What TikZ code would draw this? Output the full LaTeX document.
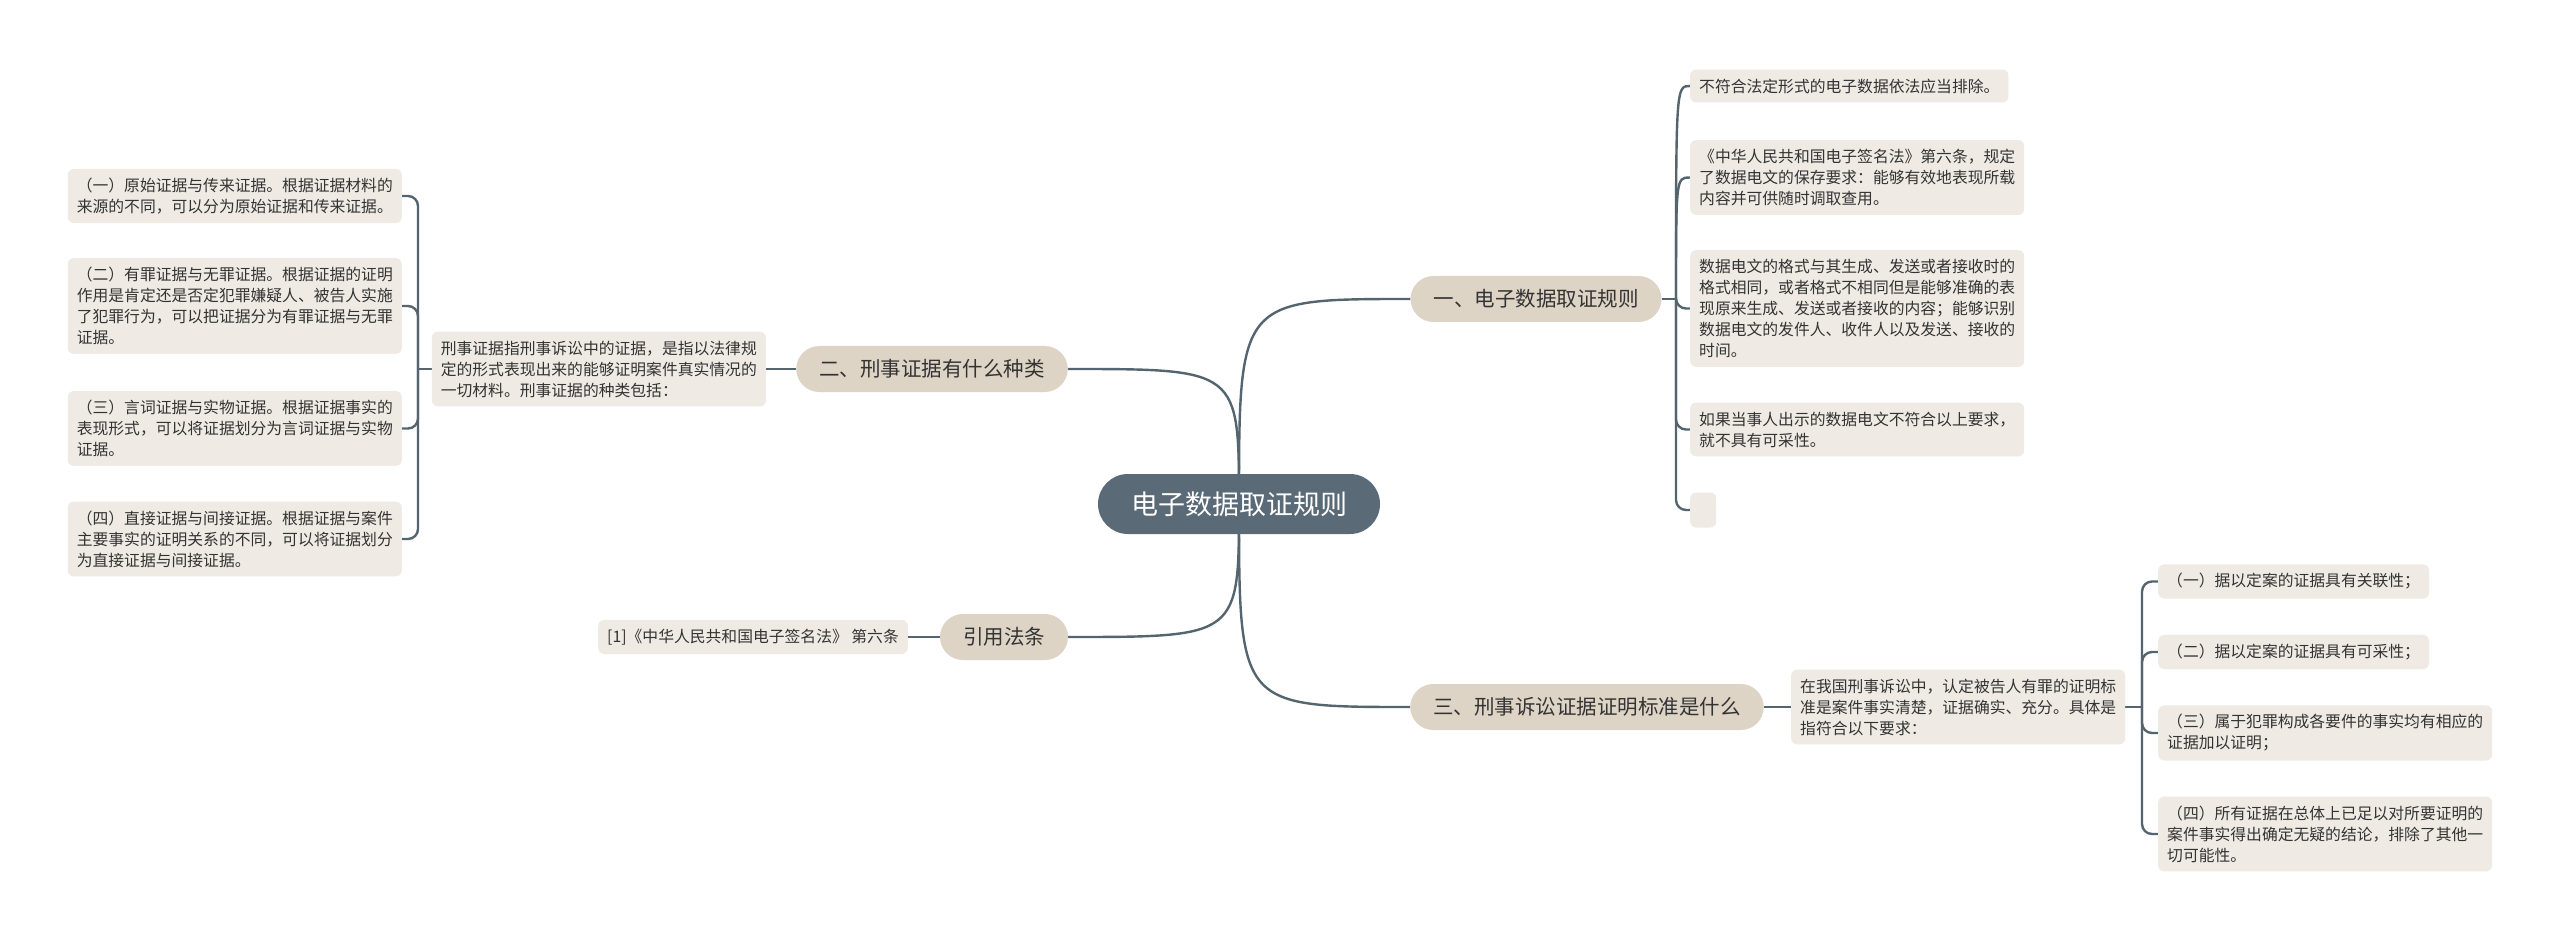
\documentclass[tikz,border=0pt]{standalone}
\usepackage{fontspec}
\setmainfont{Noto Sans CJK SC}
\usetikzlibrary{backgrounds}
\definecolor{linecol}{HTML}{55656F}
\definecolor{maincol}{HTML}{5A6A76}
\definecolor{branchcol}{HTML}{DDD4C6}
\definecolor{leafcol}{HTML}{EFEBE4}
\definecolor{textcol}{HTML}{333333}
\begin{document}
\begin{tikzpicture}[x=1pt,y=-1pt,
  conn/.style={draw=linecol, line width=2.4pt},
  spine/.style={draw=linecol, line width=2.4pt, rounded corners=10pt},
  mainnode/.style={fill=maincol, text=white, rounded corners=30pt, minimum height=60pt, inner xsep=33pt, inner ysep=0pt, font=\fontsize{27}{30}\selectfont},
  branch/.style={fill=branchcol, text=textcol, rounded corners=23pt, minimum height=46pt, inner xsep=23pt, inner ysep=0pt, font=\fontsize{20.5}{24}\selectfont},
  leaf/.style={fill=leafcol, text=textcol, rounded corners=6pt, inner xsep=9pt, inner ysep=9pt, align=left, font=\fontsize{15.8}{21}\selectfont}
]
\useasboundingbox (0,0) rectangle (2560,941);

% central and branch nodes
\node[mainnode] (c) at (1239,504) {电子数据取证规则};
\node[branch] (b1) at (1536,299) {一、电子数据取证规则};
\node[branch] (b2) at (932,369) {二、刑事证据有什么种类};
\node[branch] (b3) at (1587,707) {三、刑事诉讼证据证明标准是什么};
\node[branch] (b4) at (1004,637) {引用法条};

% branch 1 leaves
\node[leaf, anchor=west] (l1) at (1690,86) {不符合法定形式的电子数据依法应当排除。};
\node[leaf, anchor=west] (l2) at (1690,177.5) {《中华人民共和国电子签名法》第六条，规定\\了数据电文的保存要求：能够有效地表现所载\\内容并可供随时调取查用。};
\node[leaf, anchor=west] (l3) at (1690,308.5) {数据电文的格式与其生成、发送或者接收时的\\格式相同，或者格式不相同但是能够准确的表\\现原来生成、发送或者接收的内容；能够识别\\数据电文的发件人、收件人以及发送、接收的\\时间。};
\node[leaf, anchor=west] (l4) at (1690,429.5) {如果当事人出示的数据电文不符合以上要求，\\就不具有可采性。};
\node[leaf, anchor=west, minimum width=26pt, minimum height=35pt, inner sep=0pt] (l5) at (1690,510) {};
\coordinate (j1) at (1676,299);

% branch 2
\node[leaf, anchor=east] (d2) at (766,369) {刑事证据指刑事诉讼中的证据，是指以法律规\\定的形式表现出来的能够证明案件真实情况的\\一切材料。刑事证据的种类包括：};
\node[leaf, anchor=east] (k1) at (402,196) {（一）原始证据与传来证据。根据证据材料的\\来源的不同，可以分为原始证据和传来证据。};
\node[leaf, anchor=east] (k2) at (402,306) {（二）有罪证据与无罪证据。根据证据的证明\\作用是肯定还是否定犯罪嫌疑人、被告人实施\\了犯罪行为，可以把证据分为有罪证据与无罪\\证据。};
\node[leaf, anchor=east] (k3) at (402,428.5) {（三）言词证据与实物证据。根据证据事实的\\表现形式，可以将证据划分为言词证据与实物\\证据。};
\node[leaf, anchor=east] (k4) at (402,539) {（四）直接证据与间接证据。根据证据与案件\\主要事实的证明关系的不同，可以将证据划分\\为直接证据与间接证据。};
\coordinate (j2) at (418,369);

% branch 3
\node[leaf, anchor=west] (d3) at (1791,707) {在我国刑事诉讼中，认定被告人有罪的证明标\\准是案件事实清楚，证据确实、充分。具体是\\指符合以下要求：};
\node[leaf, anchor=west] (m1) at (2158,581.5) {（一）据以定案的证据具有关联性；};
\node[leaf, anchor=west] (m2) at (2158,652) {（二）据以定案的证据具有可采性；};
\node[leaf, anchor=west] (m3) at (2158,733) {（三）属于犯罪构成各要件的事实均有相应的\\证据加以证明；};
\node[leaf, anchor=west] (m4) at (2158,834) {（四）所有证据在总体上已足以对所要证明的\\案件事实得出确定无疑的结论，排除了其他一\\切可能性。};
\coordinate (j3) at (2142,707);

% branch 4
\node[leaf, anchor=east] (d4) at (908,637) {[1]《中华人民共和国电子签名法》 第六条};

\begin{pgfonlayer}{background}
  \fill[white] (0,0) rectangle (2560,941);
  \draw[conn] (c.center) .. controls (c.center |- b1.west) .. (b1.west);
  \draw[conn] (c.center) .. controls (c.center |- b2.east) .. (b2.east);
  \draw[conn] (c.center) .. controls (c.center |- b3.west) .. (b3.west);
  \draw[conn] (c.center) .. controls (c.center |- b4.east) .. (b4.east);

  \draw[conn] (b1.east) -- (j1);
  \draw[conn] (j1) .. controls (j1 |- l1.west) .. (l1.west);
  \draw[conn] (j1) .. controls (j1 |- l2.west) .. (l2.west);
  \foreach \n in {l3,l4,l5} \draw[spine] (j1) |- (\n.west);

  \draw[conn] (b2.west) -- (d2.east);
  \draw[conn] (d2.west) -- (j2);
  \foreach \n in {k1,k2,k3,k4} \draw[spine] (j2) |- (\n.east);

  \draw[conn] (b3.east) -- (d3.west);
  \draw[conn] (d3.east) -- (j3);
  \foreach \n in {m1,m2,m3,m4} \draw[spine] (j3) |- (\n.west);

  \draw[conn] (b4.west) -- (d4.east);
\end{pgfonlayer}
\end{tikzpicture}
\end{document}
